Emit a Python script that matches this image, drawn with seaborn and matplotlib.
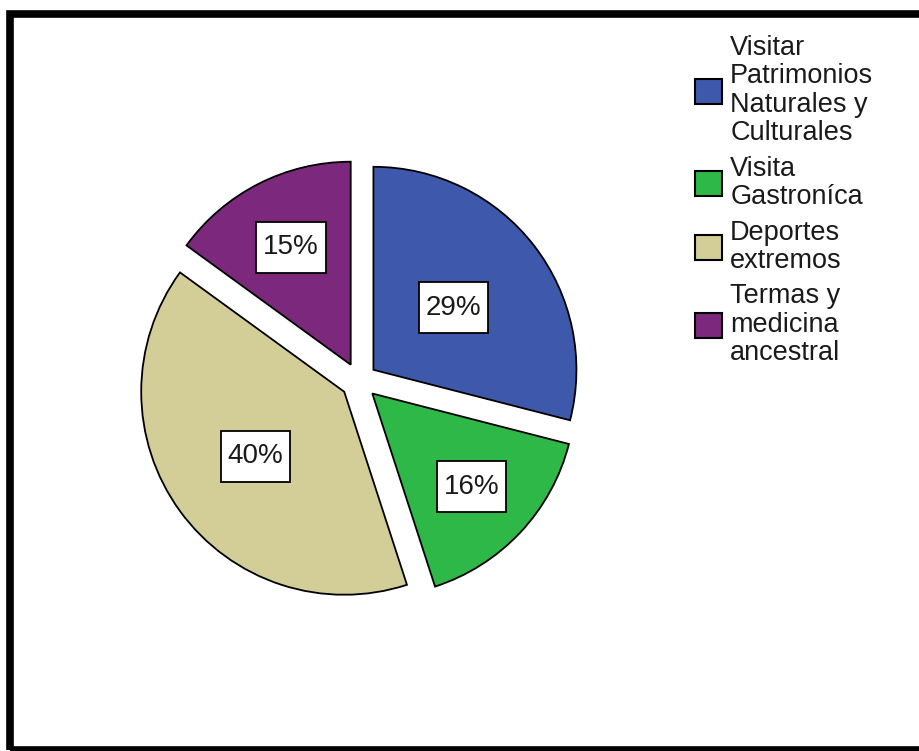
import numpy as np
import matplotlib
matplotlib.use("Agg")
import matplotlib.pyplot as plt
from matplotlib.patches import Patch, Rectangle
from matplotlib.path import Path
import seaborn as sns

# Tourism activity preferences (percent of respondents)
categories = [
    "Visitar\nPatrimonios\nNaturales y\nCulturales",
    "Visita\nGastroníca",
    "Deportes\nextremos",
    "Termas y\nmedicina\nancestral",
]
percentages = [29, 16, 40, 15]
colors = ["#3E58AC", "#2EB848", "#D3CE97", "#7C287D"]

sns.set_theme(style="white")
plt.rcParams["font.family"] = ["Liberation Sans", "DejaVu Sans"]

W, H, DPI = 920, 751, 100
fig = plt.figure(figsize=(W / DPI, H / DPI), dpi=DPI)
fig.patch.set_facecolor("white")

# Square axes holding the pie, centred on the plotting area
cx_px, cy_px, half_px, r_px = 359, 381, 250, 203
ax = fig.add_axes([(cx_px - half_px) / W, (H - cy_px - half_px) / H,
                   2 * half_px / W, 2 * half_px / H])

palette = sns.color_palette(colors)
wedges, _ = ax.pie(
    percentages,
    colors=palette,
    startangle=90,
    counterclock=False,
    explode=[0.09] * len(percentages),
    radius=1.0,
    wedgeprops=dict(edgecolor="black", linewidth=1.3),
)
lim = half_px / r_px
ax.set_xlim(-lim, lim)
ax.set_ylim(-lim, lim)
ax.set_aspect("auto")
ax.axis("off")


def label_box(x0, y0, width, height, mutation_size):
    """Rectangular box with more vertical than horizontal padding."""
    px, py = 0.25 * mutation_size, 0.45 * mutation_size
    x0, y0 = x0 - px, y0 - py
    x1, y1 = x0 + width + 2 * px, y0 + height + 2 * py
    return Path([(x0, y0), (x1, y0), (x1, y1), (x0, y1), (x0, y0)],
                closed=True)


# Percentage labels in white boxes inside each slice
label_dist = [0.50, 0.67, 0.54, 0.65]
for w, pct, d in zip(wedges, percentages, label_dist):
    ang = np.deg2rad((w.theta1 + w.theta2) / 2)
    x0, y0 = w.center
    ax.text(x0 + d * np.cos(ang), y0 + d * np.sin(ang), f"{pct}%",
            ha="center", va="center", fontsize=20, color="#1a1a1a",
            bbox=dict(boxstyle=label_box, facecolor="white",
                      edgecolor="black", linewidth=1.3))

# Legend on the right
handles = [Patch(facecolor=c, edgecolor="black", linewidth=1.5) for c in palette]
leg = fig.legend(handles, categories, loc="upper left",
                 bbox_to_anchor=(695 / W, 1 - 35 / H),
                 frameon=False, fontsize=19.5,
                 handlelength=1.0, handleheight=1.05, handletextpad=0.3,
                 labelspacing=0.35, borderpad=0, borderaxespad=0)
for t in leg.get_texts():
    t.set_linespacing(1.12)
    t.set_color("#1a1a1a")

# Thick black frame around the figure
fig.patches.append(Rectangle((10 / W, 1 - 749.5 / H), (925 - 10) / W, (749.5 - 13.5) / H,
                             transform=fig.transFigure, fill=False,
                             edgecolor="black", linewidth=5.5))

fig.savefig("out.png", dpi=DPI)
